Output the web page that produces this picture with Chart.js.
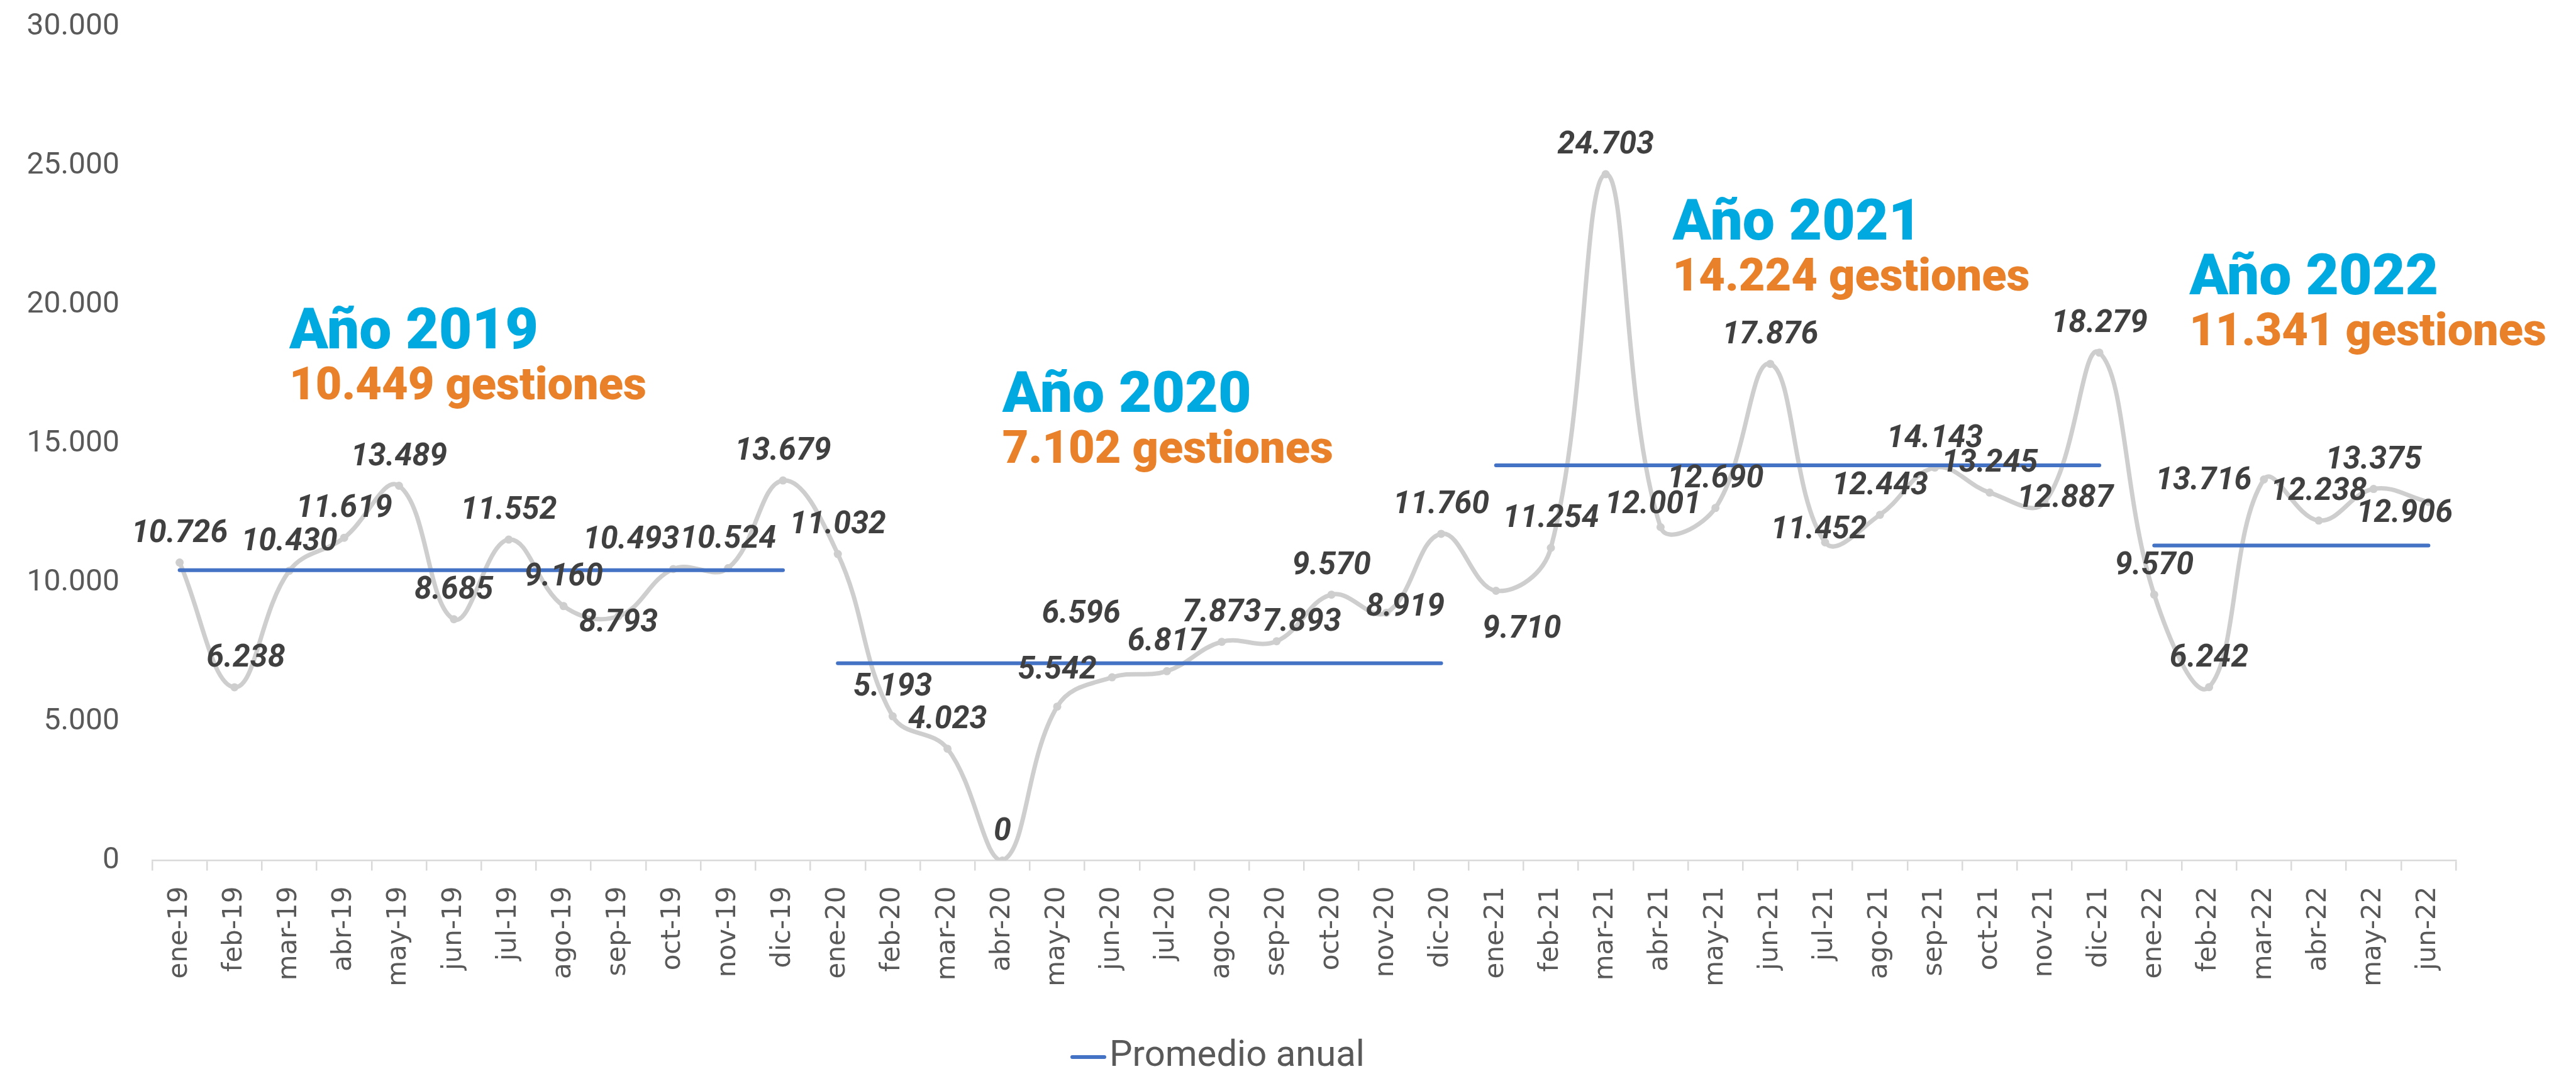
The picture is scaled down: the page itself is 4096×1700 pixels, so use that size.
<!DOCTYPE html>
<html lang="es">
<head>
<meta charset="utf-8">
<title>Gestiones mensuales</title>
<script src="https://cdn.jsdelivr.net/npm/chart.js@4.4.1/dist/chart.umd.min.js"></script>
<style>
  html, body { margin: 0; padding: 0; background: #fff; }
  canvas { display: block; }
</style>
</head>
<body>
<canvas id="grafico" width="4096" height="1700"></canvas>
<script>
// Meses del eje X
const meses = [
    'ene-19', 'feb-19', 'mar-19', 'abr-19', 'may-19', 'jun-19', 'jul-19', 'ago-19', 'sep-19', 'oct-19', 'nov-19', 'dic-19',
    'ene-20', 'feb-20', 'mar-20', 'abr-20', 'may-20', 'jun-20', 'jul-20', 'ago-20', 'sep-20', 'oct-20', 'nov-20', 'dic-20',
    'ene-21', 'feb-21', 'mar-21', 'abr-21', 'may-21', 'jun-21', 'jul-21', 'ago-21', 'sep-21', 'oct-21', 'nov-21', 'dic-21',
    'ene-22', 'feb-22', 'mar-22', 'abr-22', 'may-22', 'jun-22'
];

// Gestiones por mes
const gestiones = [
    10726, 6238, 10430, 11619, 13489, 8685, 11552, 9160, 8793, 10493, 10524, 13679,
    11032, 5193, 4023, 0, 5542, 6596, 6817, 7873, 7893, 9570, 8919, 11760,
    9710, 11254, 24703, 12001, 12690, 17876, 11452, 12443, 14143, 13245, 12887, 18279,
    9570, 6242, 13716, 12238, 13375, 12906
];

// Promedio anual (gestiones) de cada año
const anios = ['2019', '2020', '2021', '2022'];
const promedios = [10449, 7102, 14224, 11341];

// Ticks del eje Y
const ticksY = [0, 5000, 10000, 15000, 20000, 25000, 30000];

// Corrimientos manuales de algunas etiquetas (px), como en el original
const ajusteEtiquetas = {
    1: [18, 0], 8: [0, 57], 9: [-67, 0], 16: [0, -12], 17: [-49, -54],
    20: [40, 16], 22: [30, 38], 24: [41, 108], 27: [-12, 11], 30: [-10, 26],
    34: [33, 40], 38: [-96, 49], 41: [-38, 65]
};

// Donde va cada texto "Año ..." (indice de mes, valor del eje Y)
const posAnotaciones = [
    { x: 2, y: 18440 },
    { x: 15, y: 16140 },
    { x: 27.22, y: 22360 },
    { x: 36.64, y: 20390 }
];

function formatoMiles(v) {
    return String(v).replace(/\B(?=(\d{3})+(?!\d))/g, '.');
}

// Una serie por año para la línea de promedio
const datasetsPromedio = anios.map((anio, i) => ({
    label: 'Promedio anual',
    data: meses.map(m => m.endsWith('-' + anio.slice(2)) ? promedios[i] : null),
    borderColor: '#4472C4',
    borderWidth: 6,
    borderCapStyle: 'round',
    pointRadius: 0,
    fill: false,
    spanGaps: false,
    order: 0
}));

// Valores sobre cada punto
const etiquetasPlugin = {
    id: 'etiquetas',
    afterDatasetsDraw(chart) {
        const ctx = chart.ctx;
        const meta = chart.getDatasetMeta(0);
        ctx.save();
        ctx.font = 'italic bold 50px Roboto';
        ctx.fillStyle = '#404040';
        ctx.textAlign = 'center';
        ctx.textBaseline = 'alphabetic';
        meta.data.forEach((pt, i) => {
            const [dx, dy] = ajusteEtiquetas[i] || [0, 0];
            ctx.fillText(formatoMiles(gestiones[i]), pt.x + dx, pt.y - 33 + dy);
        });
        ctx.restore();
    }
};

// Textos "Año 20xx / promedio gestiones"
const anotacionesPlugin = {
    id: 'anotaciones',
    afterDraw(chart) {
        const { ctx, scales: { x, y } } = chart;
        ctx.save();
        ctx.textAlign = 'left';
        ctx.textBaseline = 'alphabetic';
        anios.forEach((anio, i) => {
            const px = x.getPixelForValue(posAnotaciones[i].x);
            const py = y.getPixelForValue(posAnotaciones[i].y);
            ctx.font = '900 91px Roboto';
            ctx.fillStyle = '#00A9E0';
            ctx.fillText('Año ' + anio, px, py);
            ctx.font = '900 72px Roboto';
            ctx.fillStyle = '#E8812A';
            ctx.fillText(formatoMiles(promedios[i]) + ' gestiones', px, py + 81);
        });
        ctx.restore();
    }
};

// Leyenda (una sola entrada)
const leyendaPlugin = {
    id: 'leyenda',
    afterDraw(chart) {
        const ctx = chart.ctx;
        ctx.save();
        ctx.strokeStyle = '#4472C4';
        ctx.lineWidth = 6;
        ctx.lineCap = 'round';
        ctx.beginPath();
        ctx.moveTo(1705, 1681);
        ctx.lineTo(1756, 1681);
        ctx.stroke();
        ctx.font = '58px Roboto';
        ctx.fillStyle = '#595959';
        ctx.textBaseline = 'alphabetic';
        ctx.fillText('Promedio anual', 1764, 1695);
        ctx.restore();
    }
};

const ctx = document.getElementById('grafico').getContext('2d');
const chart = new Chart(ctx, {
    type: 'line',
    data: {
        labels: meses,
        datasets: [{
            label: 'Gestiones',
            data: gestiones,
            borderColor: '#CFCECE',
            borderWidth: 7,
            tension: 0.4,
            pointRadius: 6.5,
            pointBackgroundColor: '#CFCECE',
            pointBorderWidth: 0,
            fill: false,
            order: 1
        }, ...datasetsPromedio]
    },
    options: {
        responsive: false,
        animation: false,
        devicePixelRatio: 1,
        layout: { padding: { top: 43, right: 191, bottom: 0, left: 0 } },
        plugins: {
            legend: { display: false },
            tooltip: { enabled: false }
        },
        scales: {
            x: {
                offset: true,
                grid: {
                    offset: true,
                    drawOnChartArea: false,
                    drawTicks: true,
                    tickLength: 16,
                    lineWidth: 2.5,
                    color: c => c.index === meses.length ? 'rgba(0,0,0,0)' : '#D9D9D9'
                },
                border: { display: true, color: '#D9D9D9', width: 2.5 },
                ticks: {
                    autoSkip: false,
                    maxRotation: 90,
                    minRotation: 90,
                    padding: 25,
                    color: '#595959',
                    font: { family: 'DejaVu Sans', size: 42 }
                },
                afterFit: s => { s.height = 331.5; }
            },
            y: {
                min: ticksY[0],
                max: ticksY[ticksY.length - 1],
                grid: { display: false, drawTicks: false },
                border: { display: false },
                ticks: {
                    stepSize: ticksY[1] - ticksY[0],
                    padding: 52,
                    color: '#595959',
                    font: { family: 'Roboto', size: 48 },
                    callback: v => formatoMiles(v)
                },
                afterFit: s => {
                    s.width = 242;
                    s.paddingTop = 0;
                    s.paddingBottom = 0;
                }
            }
        }
    },
    plugins: [etiquetasPlugin, anotacionesPlugin, leyendaPlugin]
});
</script>
</body>
</html>
